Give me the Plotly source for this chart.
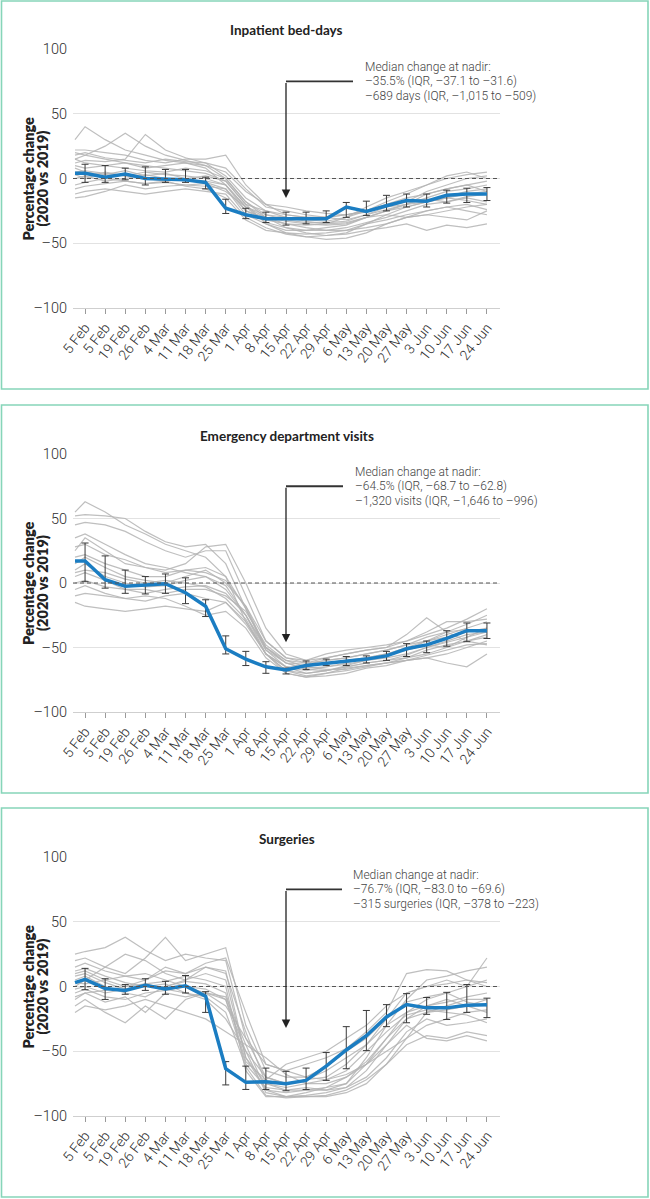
import plotly.graph_objects as go

# ---------------- data ----------------
WEEKS = ["5 Feb", "5 Feb", "19 Feb", "26 Feb", "4 Mar", "11 Mar", "18 Mar", "25 Mar",
         "1 Apr", "8 Apr", "15 Apr", "22 Apr", "29 Apr", "6 May", "13 May", "20 May",
         "27 May", "3 Jun", "10 Jun", "17 Jun", "24 Jun"]
LEAD_IN = -0.5  # lines begin slightly before the first labelled week

TITLES = ["Inpatient bed-days", "Emergency department visits", "Surgeries"]
NOTES = [
    ["Median change at nadir:", "–35.5% (IQR, –37.1 to –31.6)", "–689 days (IQR, –1,015 to –509)"],
    ["Median change at nadir:", "–64.5% (IQR, –68.7 to –62.8)", "–1,320 visits (IQR, –1,646 to –996)"],
    ["Median change at nadir:", "–76.7% (IQR, –83.0 to –69.6)", "–315 surgeries (IQR, –378 to –223)"],
]
NADIR_WEEK = 10  # 15 Apr
ARROW_TIP = [-15, -46, -32]

# medians (first value = lead-in point, then one per week)
MEDIAN_BEDS = [4, 4, 1, 3.5, 0, -0.5, -1, -3, -23, -28, -31, -31, -31, -31, -22, -25.5, -21, -17, -17.5, -13, -12, -12]
MEDIAN_ED = [17, 17, 2.5, -2.5, -1.5, -0.5, -7.5, -18, -51, -59, -65, -67.5, -64, -62.5, -61, -59, -56.5, -51, -48, -43, -37, -37]
MEDIAN_SURG = [3, 5.5, -1.5, -3, 1, -2, 0.5, -7.5, -63.5, -74, -73.5, -75, -72.5, -61.5, -49, -38, -23.5, -14, -16.5, -16.5, -14.5, -14]

# interquartile range per week (low, high)
IQR_LOW_BEDS = [-3, -3, -1, -5, -3, -3, -8, -27, -31, -34, -36, -35, -34, -30, -28.5, -25, -22, -22, -19, -18.5, -17]
IQR_HIGH_BEDS = [11, 10, 8, 9, 7, 7, 1, -16, -23, -26, -26, -26, -25, -18.5, -17.5, -13, -12, -12, -9, -7.5, -7]
IQR_LOW_ED = [1, -4, -8, -8.5, -8, -16, -26, -55, -64, -70, -70.5, -67, -64, -64, -62, -60, -57, -54, -49, -45.5, -43]
IQR_HIGH_ED = [31, 21, 10, 5, 7, 4, -13, -41, -53, -61, -66, -60.5, -59, -57, -56.5, -53, -47, -45, -37, -31, -31]
IQR_LOW_SURG = [-2.5, -10, -6, -3, -6, -5, -20, -76, -79.5, -79.5, -80.5, -79.5, -72.5, -63.5, -49.5, -31, -28, -21.5, -25.5, -20, -24]
IQR_HIGH_SURG = [14, 6, 1.5, 6, 4, 8.5, -4, -58, -61.5, -63, -65.5, -63, -51, -31, -18.5, -14, -5.5, -8.5, -4.5, 1.5, -9]

# individual hospitals (first value = lead-in point)
HOSP_BEDS = [
    [30, 40, 30, 22, 18, 14, 12, 8, -5, -22, -30, -35, -36, -35, -30, -25, -22, -20, -18, -15, -12, -10],
    [15, 18, 25, 35, 25, 18, 14, 10, 0, -18, -28, -32, -34, -34, -33, -28, -24, -20, -15, -10, -8, -5],
    [12, 14, 13, 15, 34, 22, 16, 12, 2, -15, -25, -30, -33, -35, -34, -30, -25, -22, -18, -14, -10, -8],
    [22, 22, 20, 18, 14, 12, 15, 15, 18, -5, -20, -28, -30, -30, -28, -25, -18, -12, -5, 0, 3, 5],
    [20, 18, 15, 12, 10, 8, 6, 4, -2, -20, -35, -42, -45, -47, -46, -42, -35, -30, -28, -30, -32, -25],
    [10, 8, 10, 8, 6, 5, 8, 6, 0, -18, -30, -38, -42, -44, -43, -40, -38, -35, -40, -36, -38, -35],
    [5, 6, 4, 2, 5, 3, 2, 0, -5, -25, -32, -35, -38, -40, -40, -35, -28, -22, -18, -15, -17, -20],
    [-5, -3, 0, -2, -4, -3, -5, -6, -8, -28, -35, -40, -40, -38, -36, -30, -25, -20, -12, -8, -5, -10],
    [-12, -10, -8, -10, -12, -10, -8, -10, -12, -30, -38, -43, -45, -44, -42, -35, -32, -28, -25, -22, -20, -24],
    [-15, -14, -10, -5, -8, -6, -5, -4, -10, -22, -28, -30, -32, -33, -30, -22, -15, -10, -5, 2, 5, 0],
    [15, 12, 10, 12, 8, 10, 12, 10, 5, -10, -20, -22, -25, -27, -28, -26, -20, -15, -12, -8, -5, -2],
    [3, 0, 5, 2, 0, -2, 0, -3, -8, -25, -30, -33, -35, -36, -35, -30, -28, -30, -25, -22, -25, -28],
    [8, 5, 3, 6, 2, 4, 0, 2, -2, -20, -25, -28, -30, -30, -28, -25, -20, -18, -16, -18, -15, -18],
    [-8, -6, -4, -2, -4, -2, -6, -8, -15, -32, -40, -42, -43, -42, -40, -38, -35, -30, -28, -25, -22, -20],
    [18, 20, 16, 14, 12, 15, 13, 12, 8, -8, -22, -25, -28, -30, -32, -28, -22, -18, -10, -5, 0, 2],
    [0, 2, -2, 0, 3, 0, -2, -2, -5, -22, -34, -38, -40, -40, -38, -34, -30, -25, -20, -18, -14, -12],
]
HOSP_ED = [
    [55, 63, 55, 45, 38, 30, 25, 20, 5, -30, -55, -65, -65, -62, -60, -58, -55, -52, -45, -40, -35, -30],
    [52, 53, 52, 50, 40, 32, 28, 30, 15, -20, -50, -62, -63, -60, -58, -55, -52, -48, -42, -38, -32, -25],
    [45, 47, 45, 40, 32, 25, 20, 25, 25, -10, -45, -58, -60, -55, -52, -50, -48, -45, -40, -35, -28, -20],
    [25, 35, 25, 15, 12, 10, 15, 28, 30, 0, -35, -55, -60, -58, -55, -52, -50, -45, -38, -30, -30, -28],
    [20, 22, 15, 10, 5, 5, 10, 12, 5, -20, -52, -65, -70, -68, -65, -62, -60, -58, -55, -50, -45, -42],
    [10, 15, 5, 0, -3, -2, 2, 5, -2, -25, -55, -68, -72, -70, -68, -65, -62, -58, -52, -48, -45, -40],
    [5, 8, 2, -5, -8, -5, -3, -2, -8, -25, -50, -62, -67, -68, -65, -62, -60, -56, -50, -45, -40, -38],
    [0, 2, -3, -5, -5, -8, -5, -5, -10, -22, -48, -60, -65, -67, -67, -64, -62, -60, -58, -55, -50, -45],
    [-15, -18, -20, -22, -20, -18, -20, -22, -15, -30, -55, -70, -73, -72, -70, -66, -64, -60, -58, -62, -65, -55],
    [-5, -2, -8, -12, -10, -12, -18, -25, -22, -35, -58, -70, -73, -70, -66, -64, -62, -60, -56, -52, -48, -47],
    [15, 20, 12, 5, 2, 0, 5, 10, 0, -18, -45, -58, -62, -60, -58, -55, -52, -48, -45, -42, -38, -35],
    [35, 38, 30, 22, 15, 12, 8, 5, -5, -25, -52, -62, -66, -65, -63, -60, -55, -50, -45, -38, -36, -38],
    [8, 10, 8, 3, 0, 2, 0, -3, -12, -28, -55, -65, -68, -65, -62, -58, -55, -52, -48, -50, -42, -35],
    [28, 30, 22, 18, 12, 8, 10, 8, 2, -18, -50, -60, -62, -58, -55, -52, -50, -40, -27, -38, -45, -48],
    [-10, -8, -10, -12, -14, -10, -8, -12, -15, -32, -55, -68, -70, -68, -64, -60, -58, -55, -50, -46, -42, -38],
]
HOSP_SURG = [
    [25, 27, 30, 38, 28, 20, 25, 22, 20, -40, -70, -75, -72, -65, -55, -45, -30, -10, 5, 8, 12, 15],
    [20, 22, 15, 10, 22, 38, 20, 25, 30, -30, -65, -70, -70, -62, -50, -40, -25, -5, 0, 2, 5, 3],
    [10, 12, 5, 0, 5, 15, 10, 18, 22, -20, -60, -65, -60, -55, -48, -35, -20, 10, 13, 12, 5, 0],
    [0, 5, 15, 25, 20, 10, 5, 15, 10, -35, -75, -80, -78, -80, -75, -60, -40, -20, -10, -5, 0, 22],
    [-15, -10, -20, -28, -15, -25, -10, -5, -8, -45, -80, -85, -85, -85, -82, -75, -60, -40, -20, -18, -15, -10],
    [-10, -5, -12, -8, -20, -5, -8, -5, -10, -50, -82, -85, -84, -82, -78, -70, -55, -35, -25, -30, -28, -25],
    [5, 8, 0, -5, -8, 0, 5, 10, 5, -55, -80, -82, -80, -80, -78, -65, -45, -30, -40, -42, -38, -42],
    [-5, -2, -8, -10, -5, -3, 0, -2, -10, -60, -78, -80, -80, -78, -75, -55, -30, -20, -15, -12, -8, -5],
    [-20, -15, -18, -15, -10, -15, -20, -25, -35, -45, -55, -68, -75, -75, -70, -60, -50, -40, -30, -25, -20, -18],
    [3, 2, 5, 8, 10, 5, 0, -5, -15, -40, -60, -65, -70, -72, -68, -60, -45, -25, -15, -10, -15, -20],
    [8, 10, 3, -2, 2, 4, 8, 5, 0, -65, -85, -85, -82, -78, -70, -58, -40, -25, -20, -15, -10, -10],
    [15, 18, 12, 8, 5, 12, 10, 15, 12, -55, -75, -78, -75, -72, -65, -50, -35, -22, -18, -20, -22, -28],
    [-2, 0, -5, -2, 0, 2, -5, -8, -20, -62, -84, -86, -85, -84, -80, -72, -60, -45, -38, -40, -35, -38],
    [12, 14, 8, 3, 0, 0, 4, 2, -5, -58, -72, -60, -55, -50, -40, -30, -15, -5, 0, 5, 0, 5],
    [-8, -5, -3, 0, 2, -2, -5, -10, -25, -50, -70, -75, -72, -70, -60, -45, -25, -12, -8, -5, -12, -15],
]

Y_TICKS = [-100, -50, 0, 50, 100]
Y_TICK_TEXT = ["–100", "–50", "0", "50", "100"]

PANELS = [
    dict(median=MEDIAN_BEDS, lo=IQR_LOW_BEDS, hi=IQR_HIGH_BEDS, hosp=HOSP_BEDS),
    dict(median=MEDIAN_ED, lo=IQR_LOW_ED, hi=IQR_HIGH_ED, hosp=HOSP_ED),
    dict(median=MEDIAN_SURG, lo=IQR_LOW_SURG, hi=IQR_HIGH_SURG, hosp=HOSP_SURG),
]

# ---------------- layout geometry (pixels) ----------------
W, H = 650, 1199
PLOT_X = (73, 500)
PLOT_Y = [(49, 308), (454, 712), (857, 1116)]     # top/bottom pixel of y = 100 / -100
BOX_Y = [(1, 389), (405, 793), (808, 1197)]
TITLE_Y = [30, 436, 839]
NOTE_X = [363, 353, 351]
HLINE_END = [353, 343, 342]

BLUE = "#1b7dc2"
GREEN = "#86d5b9"
GREY_LINE = "#b4b4b4"
TXT = "#2e2e2e"
FONT_LIGHT = "Roboto, sans-serif"
FONT_BOLD = "Lato, Roboto, sans-serif"

x_pts = [LEAD_IN] + list(range(len(WEEKS)))
x_idx = list(range(len(WEEKS)))
x_range = [-0.6, 20.65]
px_per_unit = (PLOT_X[1] - PLOT_X[0]) / (x_range[1] - x_range[0])


def px_to_x(px):
    return x_range[0] + (px - PLOT_X[0]) / px_per_unit


def py(p):
    return 1 - p / H


light = dict(family=FONT_LIGHT, color=TXT, weight=300)

fig = go.Figure()
layout = dict(width=W, height=H, margin=dict(l=0, r=0, t=0, b=0, autoexpand=False),
              paper_bgcolor="white", plot_bgcolor="white", showlegend=False,
              shapes=[], annotations=[])

for i, pan in enumerate(PANELS):
    xa = "x" if i == 0 else f"x{i+1}"
    ya = "y" if i == 0 else f"y{i+1}"
    for h in pan["hosp"]:
        fig.add_trace(go.Scatter(x=x_pts, y=h, mode="lines", xaxis=xa, yaxis=ya,
                                 line=dict(color=GREY_LINE, width=1.2), opacity=0.85,
                                 hoverinfo="skip"))
    med = pan["median"][1:]
    fig.add_trace(go.Scatter(
        x=x_idx, y=med, mode="markers", xaxis=xa, yaxis=ya,
        marker=dict(size=1, color="rgba(0,0,0,0)"),
        error_y=dict(type="data", symmetric=False,
                     array=[h - m for h, m in zip(pan["hi"], med)],
                     arrayminus=[m - l for m, l in zip(med, pan["lo"])],
                     color="#3a3a3a", thickness=1, width=3.5),
        hoverinfo="skip"))
    fig.add_trace(go.Scatter(x=x_pts, y=pan["median"], mode="lines", xaxis=xa, yaxis=ya,
                             line=dict(color=BLUE, width=3.5)))

    dom_y = [py(PLOT_Y[i][1]), py(PLOT_Y[i][0])]
    layout[("xaxis" if i == 0 else f"xaxis{i+1}")] = dict(
        domain=[PLOT_X[0] / W, PLOT_X[1] / W], range=x_range, anchor=ya, automargin=False,
        tickmode="array", tickvals=x_idx, ticktext=WEEKS, tickangle=-52,
        ticks="outside", ticklen=5, tickcolor="#9a9a9a", tickwidth=1,
        showline=True, linecolor="#cfcfcf", linewidth=1,
        showgrid=False, zeroline=False,
        tickfont=dict(size=14, **light))
    layout[("yaxis" if i == 0 else f"yaxis{i+1}")] = dict(
        domain=dom_y, range=[-100, 100], anchor=xa, automargin=False,
        tickmode="array", tickvals=Y_TICKS, ticktext=Y_TICK_TEXT,
        showgrid=True, gridcolor="#e2e2e2", gridwidth=1, zeroline=False,
        showline=False, ticks="", ticklabelstandoff=5,
        tickfont=dict(size=14.5, **light))

    # zero reference line
    layout["shapes"].append(dict(type="line", xref=f"{xa} domain", yref=ya, x0=0, x1=1, y0=0, y1=0,
                                 line=dict(color="#555", width=1.2, dash="4px,3px")))
    # panel border
    layout["shapes"].append(dict(type="rect", xref="paper", yref="paper",
                                 x0=1.5 / W, x1=648 / W, y0=py(BOX_Y[i][1]), y1=py(BOX_Y[i][0]),
                                 line=dict(color=GREEN, width=1.6)))
    # arrow elbow
    layout["shapes"].append(dict(type="line", xref=xa, yref=ya, x0=NADIR_WEEK, x1=px_to_x(HLINE_END[i]),
                                 y0=75, y1=75, line=dict(color="#333", width=1.8)))
    layout["annotations"].append(dict(xref=xa, yref=ya, axref=xa, ayref=ya,
                                      x=NADIR_WEEK, y=ARROW_TIP[i], ax=NADIR_WEEK, ay=75,
                                      showarrow=True, arrowhead=2, arrowsize=1.3, arrowwidth=1.3,
                                      arrowcolor="#222", text=""))
    # note text
    unit = 200 / (PLOT_Y[i][1] - PLOT_Y[i][0])
    for k, line in enumerate(NOTES[i]):
        layout["annotations"].append(dict(
            xref=xa, yref=ya, x=px_to_x(NOTE_X[i]), y=75 + (1 - k) * 14.5 * unit,
            xanchor="left", yanchor="middle", showarrow=False, text=line,
            font=dict(size=12, family=FONT_LIGHT, color="#444", weight=300)))
    # title
    layout["annotations"].append(dict(
        xref="paper", yref="paper", x=(PLOT_X[0] + PLOT_X[1]) / 2 / W, y=py(TITLE_Y[i]),
        xanchor="center", yanchor="middle", showarrow=False, text=TITLES[i],
        font=dict(family=FONT_BOLD, size=13.5, color="#222", weight=700)))
    # y-axis title
    yc = (PLOT_Y[i][0] + PLOT_Y[i][1]) / 2
    for k, (txt, xp) in enumerate([("Percentage change", 28), ("(2020 vs 2019)", 42)]):
        layout["annotations"].append(dict(
            xref="paper", yref="paper", x=xp / W, y=py(yc), xanchor="center", yanchor="middle",
            textangle=-90, showarrow=False, text=txt,
            font=dict(family=FONT_BOLD, size=14.5, color="#222", weight=800)))

fig.update_layout(**layout)
fig.write_html("out.html", config={"displayModeBar": False},
               post_script="document.body.style.margin='0';")
